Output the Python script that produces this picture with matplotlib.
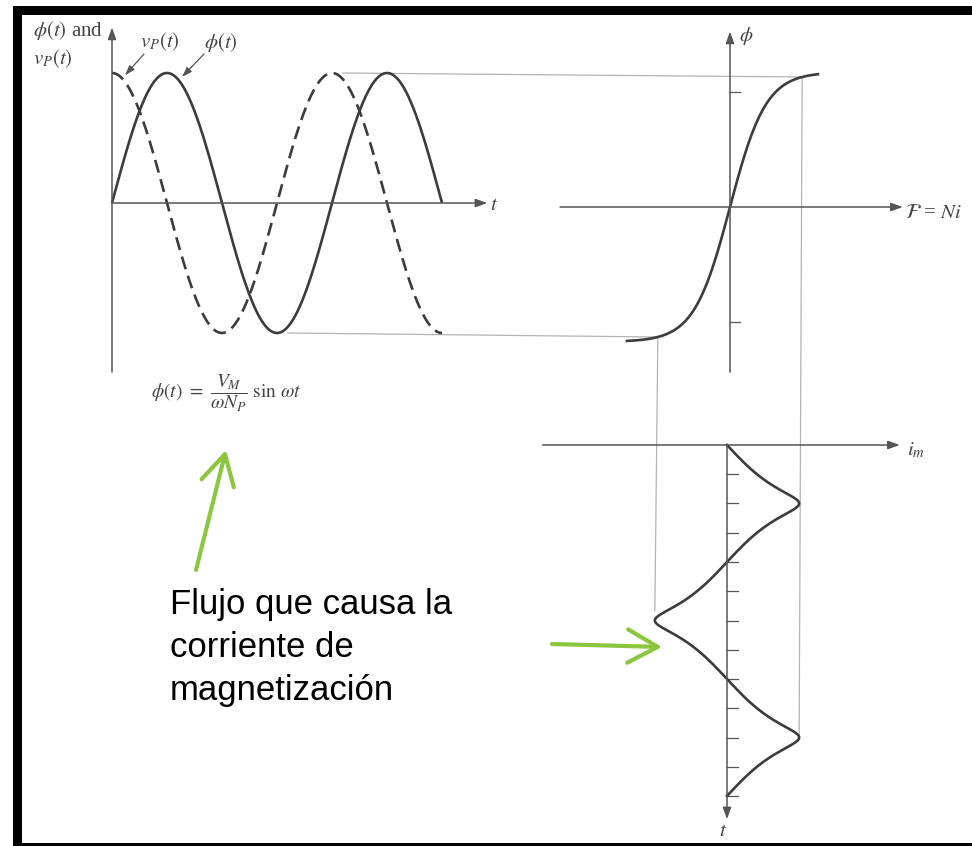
import numpy as np
import matplotlib.pyplot as plt
from matplotlib.patches import ConnectionPatch, Rectangle

plt.rcParams['mathtext.fontset'] = 'stix'
plt.rcParams['font.family'] = ['Liberation Serif', 'DejaVu Serif']

# Flux and voltage over one and a half cycles (normalised units)
T_END = 3 * np.pi
PHI_PEAK = 1.0          # V_M / (omega N_P)
VP_PEAK = 1.0

# Magnetization curve phi = PHI_SAT * tanh(F / F_SCALE), with F = Ni
PHI_SAT = 1.037
F_SCALE = 0.5
F_RANGE = [-1.43, 1.22]
PHI_TICKS = [-0.885, 0.885]

# Time ticks on the magnetizing current plot (every 1/8 cycle)
T_TICKS = [k * np.pi / 4 for k in range(1, 13)]

CURVE_C = '#3c3c3c'
AXIS_C = '#555555'
PROJ_C = '#b4b4b4'
TEXT_C = '#444444'
GREEN = '#8cc63f'

W, H = 972, 846
fig = plt.figure(figsize=(W / 100, H / 100), dpi=100)

# overlay in pixel units for frame and labels
ov = fig.add_axes([0, 0, 1, 1])
ov.set_xlim(0, W)
ov.set_ylim(H, 0)
ov.axis('off')


def panel(box, origin, scale):
    x0, y0, x1, y1 = box
    ax = fig.add_axes([x0 / W, 1 - y1 / H, (x1 - x0) / W, (y1 - y0) / H])
    ox, oy = origin
    sx, sy = scale
    ax.set_xlim((x0 - ox) / sx, (x1 - ox) / sx)
    ax.set_ylim((oy - y1) / sy, (oy - y0) / sy)
    ax.axis('off')
    return ax


def axis_arrow(ax, start, end):
    ax.annotate('', xy=end, xytext=start,
                arrowprops=dict(arrowstyle='-|>,head_length=0.7,head_width=0.25',
                                lw=1.1, color=AXIS_C, mutation_scale=10,
                                shrinkA=0, shrinkB=0))


def flux(F):
    return PHI_SAT * np.tanh(F / F_SCALE)


def mmf(phi):
    return F_SCALE * np.arctanh(phi / PHI_SAT)


t = np.linspace(0, T_END, 800)
phi_t = PHI_PEAK * np.sin(t)
vp_t = VP_PEAK * np.cos(t)
F = np.linspace(F_RANGE[0], F_RANGE[1], 500)
i_m = mmf(phi_t)

# flux and voltage vs time
ax1 = panel((100, 20, 500, 380), (112, 203), (110 / np.pi, 130))
axis_arrow(ax1, (0, -1.3), (0, 1.35))
axis_arrow(ax1, (0, 0), (10.72, 0))
ax1.plot(t, phi_t, color=CURVE_C, lw=1.9, solid_capstyle='butt')
ax1.plot(t, vp_t, color=CURVE_C, lw=1.9, dashes=(5, 2.6))

# magnetization curve
ax2 = panel((540, 20, 910, 380), (730, 207), (72, 130))
axis_arrow(ax2, (0, -1.27), (0, 1.35))
axis_arrow(ax2, (-2.36, 0), (2.4, 0))
for p in PHI_TICKS:
    ax2.plot([0, 0.14], [p, p], color=AXIS_C, lw=0.9)
ax2.plot(F, flux(F), color=CURVE_C, lw=1.9)

# magnetizing current vs time (time downward)
ax3 = panel((540, 430, 910, 830), (727, 445), (72, -117 / np.pi))
axis_arrow(ax3, (-2.56, 0), (2.4, 0))
axis_arrow(ax3, (0, 0), (0, 10.05))
for tk in T_TICKS:
    ax3.plot([0, 0.15], [tk, tk], color=AXIS_C, lw=0.9)
ax3.plot(i_m, t, color=CURVE_C, lw=1.9)

# projection lines between the plots
i_pk = mmf(PHI_PEAK)
proj = [
    (ax1, (2 * np.pi + 0.3, PHI_PEAK), ax2, (i_pk, PHI_PEAK)),
    (ax1, (1.5 * np.pi + 0.3, -PHI_PEAK), ax2, (-i_pk, -PHI_PEAK)),
    (ax2, (i_pk, PHI_PEAK), ax3, (i_pk, 2.5 * np.pi - 0.05)),
    (ax2, (-i_pk, -PHI_PEAK), ax3, (-i_pk, 1.5 * np.pi - 0.25)),
]
for axA, pA, axB, pB in proj:
    cp = ConnectionPatch(pA, pB, coordsA=axA.transData, coordsB=axB.transData,
                         color=PROJ_C, lw=0.9, zorder=0)
    fig.add_artist(cp)

# labels
lab = dict(color=TEXT_C, fontsize=15, va='center')
ov.text(33, 30, r'$\phi(t)$ and', ha='left', **lab)
ov.text(33, 59, r'$v_P(t)$', ha='left', **lab)
ov.text(160, 42, r'$v_P(t)$', ha='center', **lab)
ov.text(221, 42, r'$\phi(t)$', ha='center', **lab)
ov.text(490, 205, r'$t$', ha='left', **lab)
ov.text(739, 36, r'$\phi$', ha='left', **lab)
ov.text(905, 214, r'$\mathcal{F}$ = $Ni$', ha='left', **lab)
ov.text(907, 450, r'$i_m$', ha='left', **lab)
ov.text(723, 832, r'$t$', ha='center', **lab)
ov.text(226, 393, r'$\phi(t)\ =\ \dfrac{V_M}{\omega N_P}\ \sin\,\omega t$',
        ha='center', color=TEXT_C, fontsize=14, va='center')

small = dict(arrowstyle='-|>,head_length=0.6,head_width=0.2', lw=0.9,
             color=AXIS_C, mutation_scale=10, shrinkA=0, shrinkB=0)
ax1.annotate('', xy=(0.37, np.cos(0.37) + 0.05), xytext=(144, 54),
             textcoords=ov.transData, arrowprops=small)
ax1.annotate('', xy=(2.0, np.sin(2.0) + 0.06), xytext=(204, 54),
             textcoords=ov.transData, arrowprops=small)

# note in Spanish
note = dict(fontsize=25, color='black', family=['Liberation Sans', 'DejaVu Sans'],
            ha='left', va='baseline')
ov.text(170, 614, 'Flujo que causa la', **note)
ov.text(170, 657, 'corriente de', **note)
ov.text(170, 700, 'magnetización', **note)

green = dict(arrowstyle='->,head_length=0.9,head_width=0.5', lw=3.0,
             color=GREEN, mutation_scale=24, shrinkA=0, shrinkB=0)
ov.annotate('', xy=(226, 450), xytext=(196, 570), arrowprops=green)
ov.annotate('', xy=(662, 647), xytext=(552, 644), arrowprops=green)

# black frame
ov.add_patch(Rectangle((13, 6), W - 13, 9, color='black', lw=0))
ov.add_patch(Rectangle((13, 6), 9, H - 6, color='black', lw=0))
ov.add_patch(Rectangle((13, 843), W - 13, 3, color='black', lw=0))

fig.savefig('out.png', dpi=100)
